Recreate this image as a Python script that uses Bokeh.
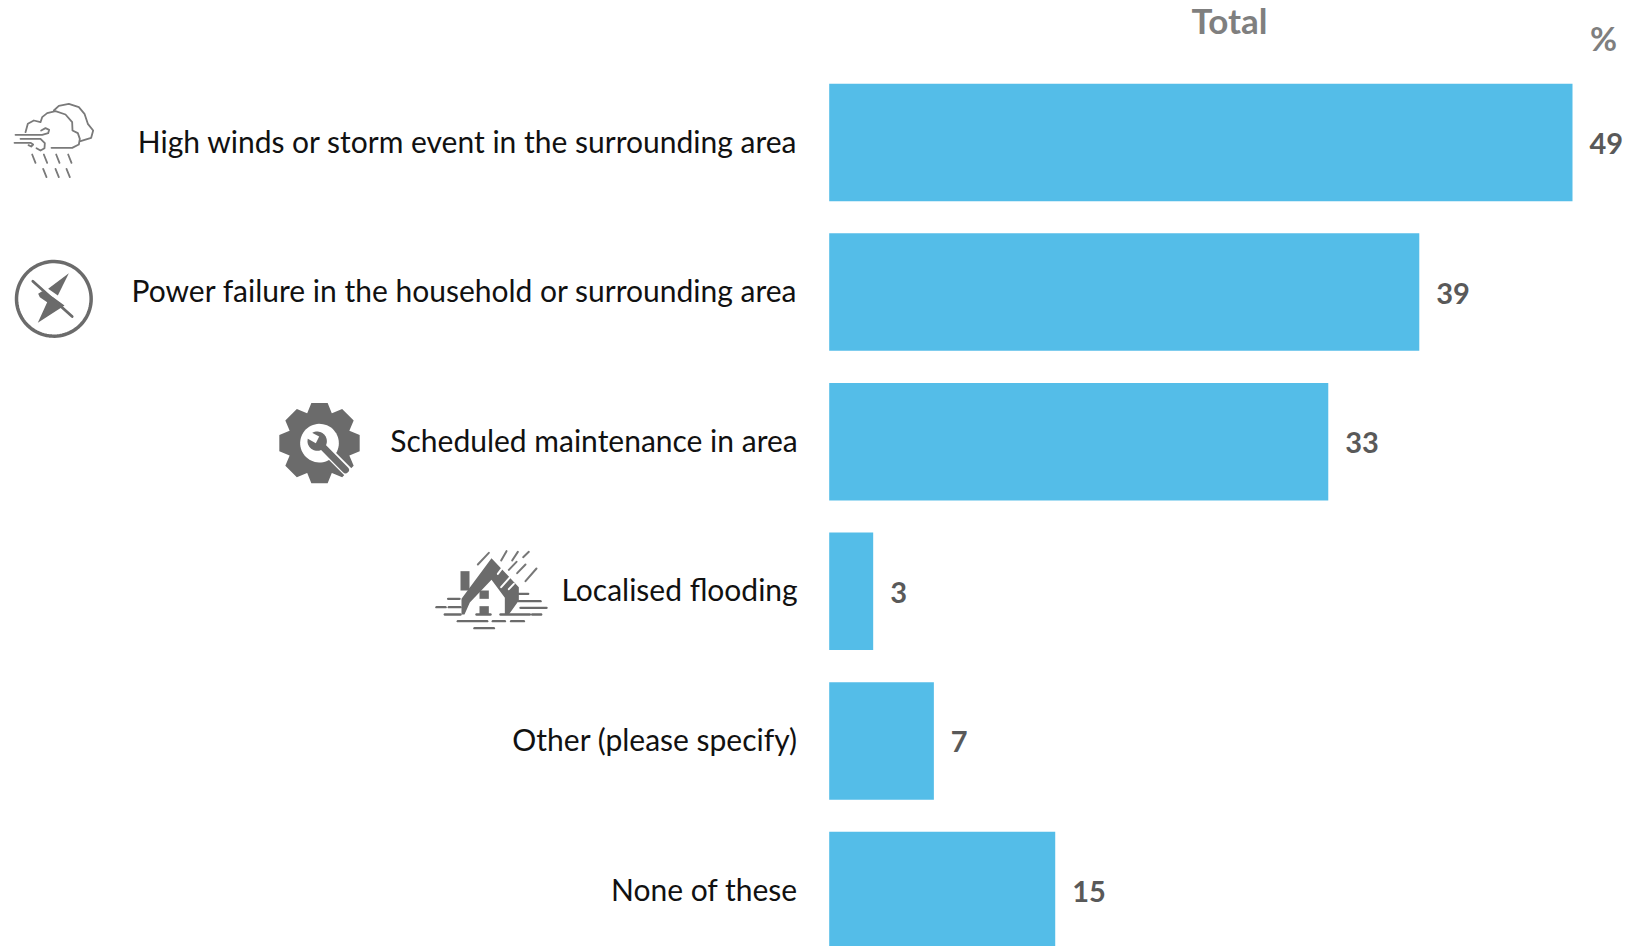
import numpy as np
from bokeh.plotting import figure
from bokeh.models import Range1d
from bokeh.core.properties import value
from bokeh.embed import file_html
from bokeh.resources import INLINE

categories = ["High winds or storm event in the surrounding area",
              "Power failure in the household or surrounding area",
              "Scheduled maintenance in area",
              "Localised flooding",
              "Other (please specify)",
              "None of these"]
values = [49.0, 38.9, 32.9, 2.9, 6.9, 14.9]
labels = ["49", "39", "33", "3", "7", "15"]
title_text = "Total"
unit_text = "%"

W, H = 1625, 946
BAR = "#54BDE8"
GREY = "#6B6B6B"
FONT = "Lato"

x0_px, per_unit = 828.7, 743.3 / 49
y0_px, pitch = 142.0, 149.6
p = figure(width=W, height=H, output_backend="svg", toolbar_location=None,
           x_range=Range1d(-x0_px / per_unit, (W - x0_px) / per_unit),
           y_range=Range1d((H - y0_px) / pitch, -y0_px / pitch),
           min_border=0, outline_line_color=None)
p.axis.visible = False
p.grid.visible = False
p.extra_x_ranges["px"] = Range1d(0, W)
p.extra_y_ranges["px"] = Range1d(H, 0)

ys = list(range(len(values)))
p.hbar(y=ys, left=0, right=values, height=117.5 / pitch, color=BAR, line_color=None)
p.text(x=[0] * len(ys), y=ys, text=categories, x_offset=-31.5, y_offset=-2,
       text_align="right", text_baseline="middle",
       text_font=value(FONT), text_font_size="30px", text_color="#111111")
p.text(x=values, y=ys, text=labels, x_offset=17, y_offset=1,
       text_align="left", text_baseline="middle", text_font=value(FONT),
       text_font_style="bold", text_font_size="29px", text_color="#595959")
p.text(x=[1229], y=[19], text=[title_text], text_align="center", text_baseline="middle",
       x_range_name="px", y_range_name="px", text_font=value(FONT), text_font_style="bold",
       text_font_size="35px", text_color="#7F7F7F")
p.text(x=[1603], y=[37], text=[unit_text], text_align="center", text_baseline="middle",
       x_range_name="px", y_range_name="px", text_font=value(FONT), text_font_style="bold",
       text_font_size="33px", text_color="#7F7F7F")


# ---- icons (3x crop coordinates) ----
def mapper(ox, oy):
    return lambda pts: ([ox + a / 3 for a, b in pts], [oy + b / 3 for a, b in pts])


def stroke(m, pts, width=1.5, color=GREY):
    xs, yy = m(pts)
    p.line(xs, yy, x_range_name="px", y_range_name="px", line_width=width,
           line_color=color, line_cap="round", line_join="round")


def fill(m, pts, color=GREY):
    xs, yy = m(pts)
    p.patch(xs, yy, x_range_name="px", y_range_name="px", fill_color=color, line_color=None)


# cloud
m = mapper(0, 80)
c = "#7A7A7A"
sw = 1.8
stroke(m, [(160, 90), (175, 76), (205, 70), (235, 80), (252, 100), (262, 130), (278, 150), (272, 172), (240, 182)], sw, c)
stroke(m, [(153, 202), (215, 202), (235, 192), (238, 175), (232, 158), (216, 150), (215, 125), (195, 102),
           (165, 92), (140, 98), (125, 110), (120, 125), (100, 120), (82, 130), (75, 155)], sw, c)
stroke(m, [(45, 163), (125, 163), (143, 158), (146, 148), (135, 143), (122, 150)], sw, c)
stroke(m, [(60, 175), (120, 175), (133, 188), (132, 203), (120, 210), (108, 203)], sw, c)
stroke(m, [(42, 187), (90, 187), (98, 192), (92, 198), (84, 194)], sw, c)
for a, b in [(95, 222), (130, 222), (167, 222), (203, 222), (128, 265), (165, 265), (198, 265)]:
    stroke(m, [(a, b), (a + 10, b + 25)], sw, c)

# power failure
t = np.linspace(0, 2 * np.pi, 90)
stroke(m, list(zip(160 + 112 * np.cos(t), 655 + 112 * np.sin(t))), 3.5)
fill(m, [(205, 578), (143, 625), (172, 645)])
fill(m, [(113, 640), (118, 650), (140, 665), (112, 727), (192, 675), (158, 650), (125, 632)])
stroke(m, [(97, 602), (215, 708)], 2.8)

# gear and wrench
m = mapper(260, 390)
cx, cy = 177, 158
gear = []
for k in range(8):
    a = k * np.pi / 4 - np.pi / 2
    for da, r in [(-0.39, 97), (-0.2, 123), (0.2, 123), (0.39, 97)]:
        gear.append((cx + r * np.cos(a + da), cy + r * np.sin(a + da)))
fill(m, gear)
t = np.linspace(0, 2 * np.pi, 60)
fill(m, list(zip(cx + 58 * np.cos(t), cy + 58 * np.sin(t))), "#FFFFFF")
stroke(m, [(190, 172), (262, 244)], 10, "#FFFFFF")
stroke(m, [(190, 172), (255, 238)], 7)
fill(m, list(zip(170 + 29 * np.cos(t), 152 + 29 * np.sin(t))))
fill(m, [(146, 122), (176, 138), (166, 158), (134, 140)], "#FFFFFF")

# flooded house
fill(m, [(600, 542), (627, 542), (627, 600), (600, 600)])
fill(m, [(603, 625), (693, 503), (775, 590), (775, 630), (745, 672), (733, 672), (733, 622),
         (693, 568), (628, 636), (612, 672), (603, 672)])
fill(m, [(657, 600), (685, 600), (685, 625), (657, 625)])
fill(m, [(657, 647), (685, 647), (685, 672), (657, 672)])
for a, b, e in [(563, 625, 597), (528, 650, 555), (565, 650, 600), (553, 672, 600), (648, 672, 690),
                (720, 672, 808), (815, 672, 842), (775, 632, 840), (775, 610, 803), (780, 652, 858),
                (592, 692, 680), (697, 692, 733), (752, 692, 790), (642, 713, 700)]:
    stroke(m, [(a, b), (e, b)], 2.4)
for a, b, e, f in [(652, 522, 685, 487), (722, 510, 738, 482), (755, 510, 772, 484), (788, 500, 805, 484),
                   (745, 538, 768, 514), (770, 548, 795, 522), (795, 572, 828, 534)]:
    stroke(m, [(a, b), (e, f)], 2, "#777777")
for a, b, e, f in [(712, 550, 730, 526), (722, 590, 752, 556), (745, 596, 760, 580)]:
    stroke(m, [(a, b), (e, f)], 2, "#FFFFFF")

open("out.html", "w").write(file_html(p, INLINE))
